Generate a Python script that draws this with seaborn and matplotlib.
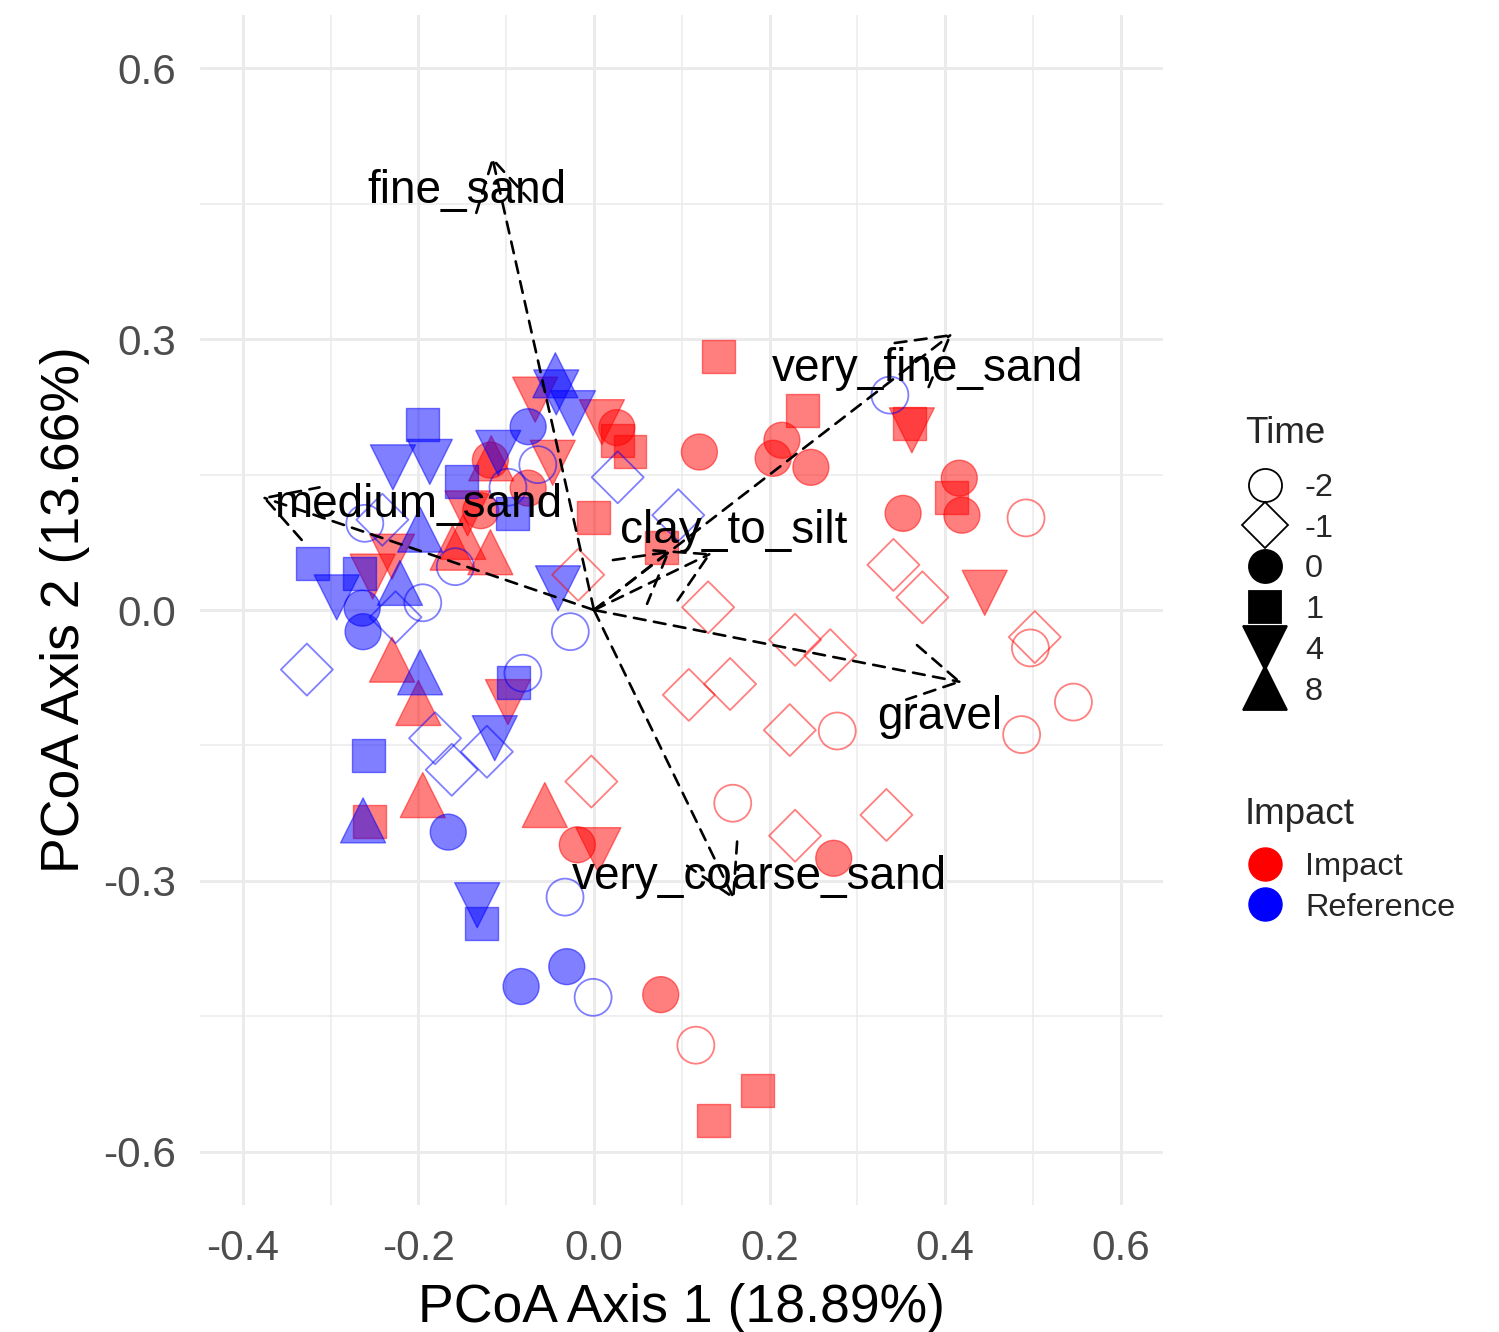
import numpy as np
import pandas as pd
import matplotlib
matplotlib.use("Agg")
import matplotlib.pyplot as plt
import seaborn as sns
from matplotlib.lines import Line2D
from matplotlib.patches import FancyArrowPatch, ArrowStyle
from matplotlib.ticker import FixedLocator, FixedFormatter

# ---------------- data (PCoA scores) ----------------
# Impact sites
imp_m2_x = [0.492, 0.497, 0.546, 0.487, 0.277, 0.158, 0.116]
imp_m2_y = [0.102, -0.042, -0.102, -0.138, -0.134, -0.214, -0.482]
imp_m1_x = [-0.018, 0.130, 0.341, 0.374, 0.502, 0.229, 0.269, 0.108, 0.155, 0.223, -0.003, 0.229, 0.333]
imp_m1_y = [0.039, 0.003, 0.050, 0.014, -0.030, -0.033, -0.050, -0.094, -0.082, -0.133, -0.190, -0.250, -0.227]
imp_0_x = [0.026, 0.120, 0.214, 0.204, 0.247, 0.352, 0.416, 0.419, -0.019, 0.273, 0.076, -0.118, -0.075, -0.129]
imp_0_y = [0.202, 0.175, 0.188, 0.168, 0.158, 0.107, 0.146, 0.105, -0.260, -0.275, -0.426, 0.166, 0.135, 0.110]
imp_1_x = [0.142, 0.238, 0.027, 0.041, -0.001, 0.077, 0.359, 0.407, -0.256, 0.186, 0.136]
imp_1_y = [0.281, 0.221, 0.188, 0.176, 0.102, 0.069, 0.207, 0.125, -0.234, -0.532, -0.565]
imp_4_x = [0.445, 0.362, -0.067, 0.009, -0.047, -0.144, -0.098, 0.005, -0.230, -0.252]
imp_4_y = [0.019, 0.199, 0.233, 0.208, 0.163, 0.107, -0.102, -0.266, 0.059, 0.037]
imp_8_x = [-0.230, -0.200, -0.195, -0.056, -0.117, -0.149, -0.118, -0.161]
imp_8_y = [-0.055, -0.103, -0.205, -0.216, 0.168, 0.081, 0.064, 0.069]
# Reference sites
ref_m2_x = [-0.064, -0.195, -0.261, -0.158, -0.027, -0.081, -0.033, -0.001, 0.337, -0.098]
ref_m2_y = [0.161, 0.008, 0.096, 0.048, -0.024, -0.070, -0.318, -0.429, 0.238, 0.136]
ref_m1_x = [-0.327, -0.181, -0.162, -0.122, 0.027, 0.096, -0.241, -0.226]
ref_m1_y = [-0.066, -0.142, -0.177, -0.157, 0.147, 0.105, 0.100, -0.008]
ref_0_x = [-0.075, -0.264, -0.263, -0.166, -0.083, -0.031]
ref_0_y = [0.203, 0.002, -0.024, -0.246, -0.417, -0.395]
ref_1_x = [-0.195, -0.321, -0.267, -0.092, -0.257, -0.128, -0.151, -0.093]
ref_1_y = [0.205, 0.052, 0.040, -0.080, -0.161, -0.347, 0.142, 0.107]
ref_4_x = [-0.043, -0.024, -0.229, -0.187, -0.109, -0.293, -0.041, -0.113, -0.133]
ref_4_y = [0.241, 0.218, 0.158, 0.164, 0.174, 0.014, 0.024, -0.142, -0.327]
ref_8_x = [-0.044, -0.198, -0.198, -0.263, -0.221]
ref_8_y = [0.260, 0.089, -0.069, -0.233, 0.030]

# environmental vectors
vec_names = ["fine_sand", "very_fine_sand", "medium_sand", "clay_to_silt", "gravel", "very_coarse_sand", ""]
vec_x = [-0.116, 0.408, -0.378, 0.134, 0.419, 0.160, 0.087]
vec_y = [0.502, 0.306, 0.125, 0.063, -0.080, -0.321, 0.066]
lab_x = [-0.145, 0.380, -0.200, 0.159, 0.394, 0.188, 0.0]
lab_y = [0.464, 0.267, 0.116, 0.087, -0.118, -0.296, 0.0]

time_levels = ["-2", "-1", "0", "1", "4", "8"]
impact_levels = ["Impact", "Reference"]
x_ticks = [-0.4, -0.2, 0.0, 0.2, 0.4, 0.6]
y_ticks = [-0.6, -0.3, 0.0, 0.3, 0.6]

groups = [
    ("Impact", "-2", imp_m2_x, imp_m2_y), ("Impact", "-1", imp_m1_x, imp_m1_y),
    ("Impact", "0", imp_0_x, imp_0_y), ("Impact", "1", imp_1_x, imp_1_y),
    ("Impact", "4", imp_4_x, imp_4_y), ("Impact", "8", imp_8_x, imp_8_y),
    ("Reference", "-2", ref_m2_x, ref_m2_y), ("Reference", "-1", ref_m1_x, ref_m1_y),
    ("Reference", "0", ref_0_x, ref_0_y), ("Reference", "1", ref_1_x, ref_1_y),
    ("Reference", "4", ref_4_x, ref_4_y), ("Reference", "8", ref_8_x, ref_8_y),
]
rows = []
for imp, t, xs, ys in groups:
    for a, b in zip(xs, ys):
        rows.append({"x": a, "y": b, "Impact": imp, "Time": t})
df = pd.DataFrame(rows)

# ---------------- style ----------------
sns.set_theme(style="white")
plt.rcParams["font.family"] = ["Liberation Sans", "DejaVu Sans"]
plt.rcParams["axes.unicode_minus"] = False

palette = {"Impact": "#FF0000", "Reference": "#0000FF"}

W, H = 1499, 1332
fig = plt.figure(figsize=(W / 100, H / 100), dpi=100)
ax = fig.add_axes([200 / W, 1 - 1205 / H, 963 / W, 1190 / H])

# filled markers
filled = df[df["Time"].isin(["0", "1", "4", "8"])]
sns.scatterplot(data=filled, x="x", y="y", hue="Impact", style="Time", size="Time",
                palette=palette, hue_order=impact_levels,
                markers={"0": "o", "1": "s", "4": "v", "8": "^"},
                sizes={"0": 671, "1": 564, "4": 1050, "8": 1050},
                alpha=0.5, edgecolor="face", linewidth=1.0, legend=False, ax=ax, zorder=3)

# open markers
openm = df[df["Time"].isin(["-2", "-1"])]
sns.scatterplot(data=openm, x="x", y="y", hue="Impact", style="Time", size="Time",
                palette=palette, hue_order=impact_levels,
                markers={"-2": "o", "-1": "D"},
                sizes={"-2": 708, "-1": 702},
                alpha=0.5, linewidth=1.3, legend=False, ax=ax, zorder=3)
coll = ax.collections[-1]
fc = coll.get_facecolors()
coll.set_edgecolors(fc)
coll.set_facecolors("none")

# vectors
astyle = ArrowStyle("->", head_length=35, head_width=20)
for name, vx, vy, lx, ly in zip(vec_names, vec_x, vec_y, lab_x, lab_y):
    arr = FancyArrowPatch((0, 0), (vx, vy), arrowstyle=astyle, mutation_scale=1,
                          linestyle=(0, (4.5, 3.2)), linewidth=1.9, color="black",
                          shrinkA=0, shrinkB=0, zorder=4)
    ax.add_patch(arr)
    if name:
        ax.text(lx, ly, name, ha="center", va="center", fontsize=33, color="black", zorder=5)

# axes styling
ax.set_xlim(-0.4487, 0.648)
ax.set_ylim(-0.659, 0.659)
for s in ax.spines.values():
    s.set_visible(False)
ax.xaxis.set_major_locator(FixedLocator(x_ticks))
ax.xaxis.set_major_formatter(FixedFormatter([f"{v:.1f}" for v in x_ticks]))
ax.yaxis.set_major_locator(FixedLocator(y_ticks))
ax.yaxis.set_major_formatter(FixedFormatter([f"{v:.1f}" for v in y_ticks]))
ax.xaxis.set_minor_locator(FixedLocator([-0.3, -0.1, 0.1, 0.3, 0.5]))
ax.yaxis.set_minor_locator(FixedLocator([-0.45, -0.15, 0.15, 0.45]))
ax.grid(which="major", color="#EBEBEB", linewidth=2.1)
ax.grid(which="minor", color="#EBEBEB", linewidth=1.1)
ax.set_axisbelow(True)
ax.tick_params(which="both", length=0)
ax.tick_params(axis="x", pad=17.5, labelsize=30.5, labelcolor="#4D4D4D")
ax.tick_params(axis="y", pad=17.5, labelsize=30.5, labelcolor="#4D4D4D")
ax.set_xlabel("PCoA Axis 1 (18.89%)", fontsize=38.5, color="black", labelpad=10)
ax.set_ylabel("PCoA Axis 2 (13.66%)", fontsize=38.5, color="black", labelpad=9)

# legends
time_markers = {"-2": ("o", 23.8, "none"), "-1": ("D", 23.4, "none"), "0": ("o", 23.8, "black"),
                "1": ("s", 23.0, "black"), "4": ("v", 31, "black"), "8": ("^", 31, "black")}
th = [Line2D([], [], linestyle="none", marker=time_markers[t][0], markersize=time_markers[t][1],
             markerfacecolor=time_markers[t][2], markeredgecolor="black", markeredgewidth=1.3)
      for t in time_levels]
leg1 = fig.legend(th, time_levels, loc="upper left", bbox_to_anchor=(1240 / W, 1 - 473 / H),
                  frameon=False, fontsize=23.4, handlelength=1.54, handletextpad=0.46,
                  labelspacing=0.33, borderpad=0, borderaxespad=0)
ih = [Line2D([], [], linestyle="none", marker="o", markersize=23.8,
             markerfacecolor=palette[k], markeredgecolor=palette[k]) for k in impact_levels]
leg2 = fig.legend(ih, impact_levels, loc="upper left", bbox_to_anchor=(1240 / W, 1 - 852 / H),
                  frameon=False, fontsize=23.4, handlelength=1.54, handletextpad=0.46,
                  labelspacing=0.33, borderpad=0, borderaxespad=0)
fig.text(1245 / W, 1 - 443 / H, "Time", fontsize=26.5, va="baseline", ha="left")
fig.text(1245 / W, 1 - 824 / H, "Impact", fontsize=26.5, va="baseline", ha="left")

fig.savefig("out.png", dpi=100, facecolor="white")
